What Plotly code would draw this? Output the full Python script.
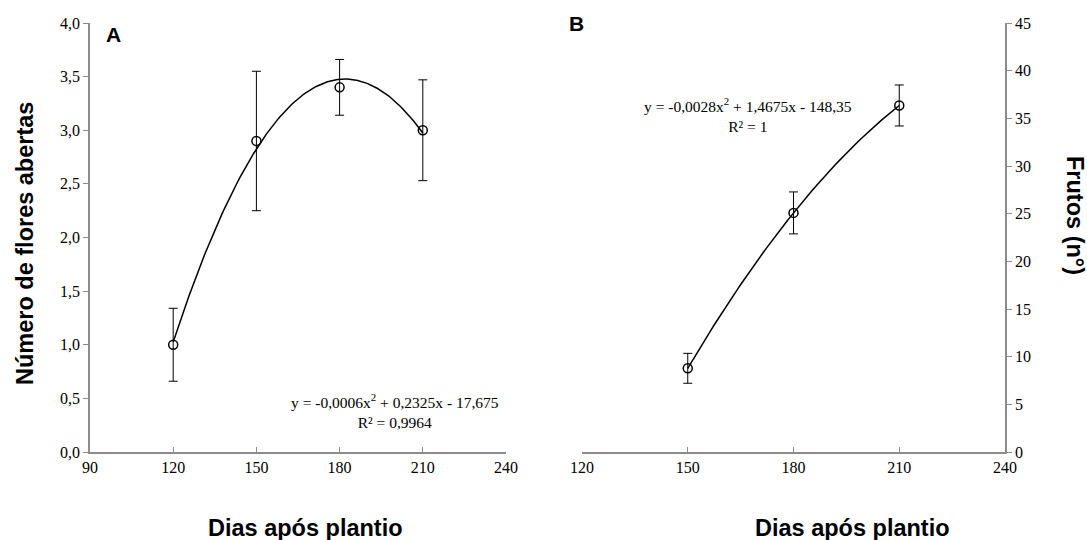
import numpy as np
import plotly.graph_objects as go

# Panel A data
dias_a = [120, 150, 180, 210]
flores = [1.0, 2.9, 3.4, 3.0]
flores_err = [0.34, 0.65, 0.26, 0.47]

# Panel B data
dias_b = [150, 180, 210]
frutos = [8.78, 25.08, 36.35]
frutos_err = [1.57, 2.2, 2.15]

eq_a = "y = -0,0006x<sup>2</sup> + 0,2325x - 17,675<br>R² = 0,9964"
eq_b = "y = -0,0028x<sup>2</sup> + 1,4675x - 148,35<br>R² = 1"

W, H = 1087, 540
def px(x): return x / W
def py(y): return 1 - y / H

fig = go.Figure()

# trendlines from quadratic fit of the data
ca = np.polyfit(dias_a, flores, 2)
xa = np.linspace(min(dias_a), max(dias_a), 200)
fig.add_trace(go.Scatter(x=xa, y=np.polyval(ca, xa), mode="lines",
                         line=dict(color="black", width=1.5), xaxis="x", yaxis="y",
                         hoverinfo="skip"))
cb = np.polyfit(dias_b, frutos, 2)
xb = np.linspace(min(dias_b), max(dias_b), 200)
fig.add_trace(go.Scatter(x=xb, y=np.polyval(cb, xb), mode="lines",
                         line=dict(color="black", width=1.5), xaxis="x2", yaxis="y2",
                         hoverinfo="skip"))

marker = dict(symbol="circle-open", size=9, color="black", line=dict(width=1.5, color="black"))
fig.add_trace(go.Scatter(x=dias_a, y=flores, mode="markers", marker=marker,
                         error_y=dict(type="data", array=flores_err, color="black", thickness=1, width=4.5),
                         xaxis="x", yaxis="y"))
fig.add_trace(go.Scatter(x=dias_b, y=frutos, mode="markers", marker=marker,
                         error_y=dict(type="data", array=frutos_err, color="black", thickness=1, width=4.5),
                         xaxis="x2", yaxis="y2"))

tickfont = dict(family="Liberation Serif", size=16, color="black")
axcommon = dict(showgrid=False, zeroline=False, showline=True, linecolor="#8c8c8c", linewidth=1.5,
                tickcolor="#8c8c8c", ticklen=5, tickwidth=1, tickfont=tickfont,
                fixedrange=True, automargin=False)

fig.update_layout(
    width=W, height=H, margin=dict(l=0, r=0, t=0, b=0),
    paper_bgcolor="white", plot_bgcolor="white", showlegend=False,
    separators=",.",
    xaxis=dict(domain=[px(90), px(506)], range=[90, 240], tickvals=[90, 120, 150, 180, 210, 240],
               anchor="y", ticks="inside", **axcommon),
    yaxis=dict(domain=[py(452), py(23)], range=[0, 4], tickvals=[0, 0.5, 1, 1.5, 2, 2.5, 3, 3.5, 4],
               tickformat=".1f", anchor="x", ticks="outside", **axcommon),
    xaxis2=dict(domain=[px(582), px(1005)], range=[120, 240], tickvals=[120, 150, 180, 210, 240],
                anchor="y2", ticks="inside", **axcommon),
    yaxis2=dict(domain=[py(452), py(23)], range=[0, 45], tickvals=list(range(0, 50, 5)),
                side="right", anchor="x2", ticks="outside", **axcommon),
)

bold = dict(family="Liberation Sans", size=23.5, color="black")
letter = dict(family="Liberation Sans", size=21, color="black")
serif = dict(family="Liberation Serif", size=15.5, color="black")
C = dict(xanchor="center", yanchor="middle", showarrow=False)
ann = [
    dict(x=200, y=0.38, xref="x", yref="y", text=eq_a, font=serif, align="center", **C),
    dict(x=167, y=35.4, xref="x2", yref="y2", text=eq_b, font=serif, align="center", **C),
    dict(x=px(113), y=py(35), xref="paper", yref="paper", text="<b>A</b>", font=letter, **C),
    dict(x=px(576), y=py(23), xref="paper", yref="paper", text="<b>B</b>", font=letter, **C),
    dict(x=px(25), y=py(244), xref="paper", yref="paper", text="<b>Número de flores abertas</b>",
         textangle=-90, font=bold, **C),
    dict(x=px(1075), y=py(215), xref="paper", yref="paper", text="<b>Frutos (n°)</b>",
         textangle=90, font=bold, **C),
    dict(x=px(305), y=py(528), xref="paper", yref="paper", text="<b>Dias após plantio</b>",
         font=bold, **C),
    dict(x=px(852), y=py(528), xref="paper", yref="paper", text="<b>Dias após plantio</b>",
         font=bold, **C),
]
fig.update_layout(annotations=ann)

fig.write_html("out.html",
               post_script="document.body.style.margin='0';document.body.style.overflow='hidden';")
